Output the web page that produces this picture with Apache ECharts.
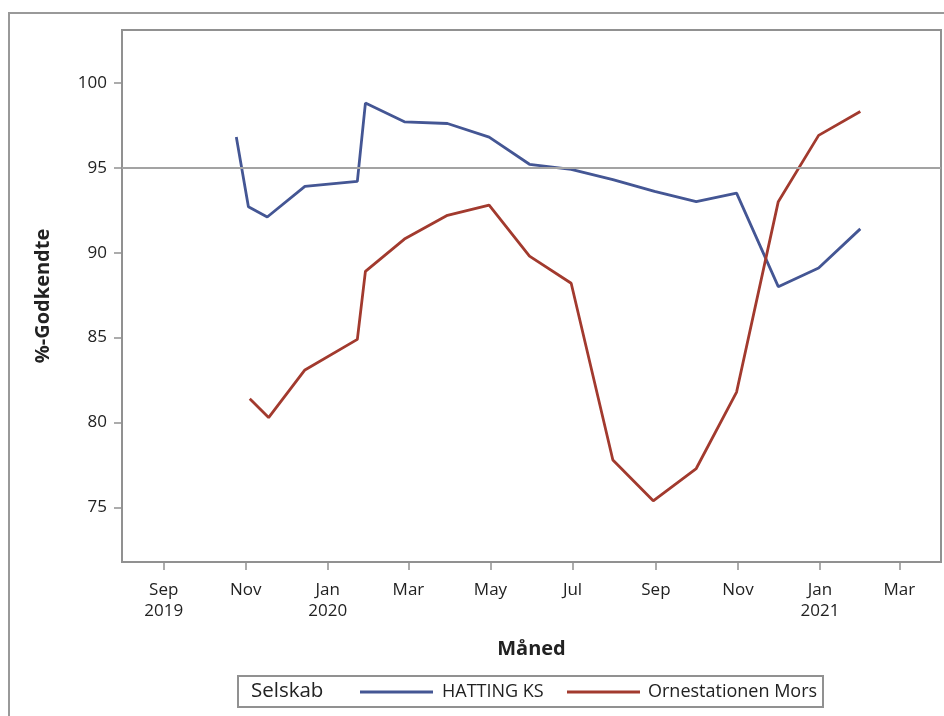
<!DOCTYPE html>
<html>
<head>
<meta charset="utf-8">
<script src="https://cdn.jsdelivr.net/npm/echarts@6/dist/echarts.min.js"></script>
<style>
html,body{margin:0;padding:0;background:#fff;}
#chart{width:944px;height:716px;}
</style>
</head>
<body>
<div id="chart"></div>
<script>
// ---- data ----
var hattingDates = ['2019-10-25','2019-11-03','2019-11-17','2019-12-15','2020-01-23','2020-01-29','2020-02-27','2020-03-30','2020-04-30','2020-05-30','2020-06-30','2020-07-31','2020-08-31','2020-10-01','2020-10-31','2020-12-01','2020-12-31','2021-01-31'];
var hattingValues = [96.8, 92.7, 92.1, 93.9, 94.2, 98.8, 97.7, 97.6, 96.8, 95.2, 94.9, 94.3, 93.6, 93.0, 93.5, 88.0, 89.1, 91.4];

var ornDates = ['2019-11-04','2019-11-18','2019-12-15','2020-01-23','2020-01-29','2020-02-27','2020-03-30','2020-04-30','2020-05-30','2020-06-30','2020-07-31','2020-08-30','2020-10-01','2020-10-31','2020-12-01','2020-12-31','2021-01-31'];
var ornValues = [81.4, 80.3, 83.1, 84.9, 88.9, 90.8, 92.2, 92.8, 89.8, 88.2, 77.8, 75.4, 77.3, 81.8, 93.0, 96.9, 98.3];

var tickDates = ['2019-09-01','2019-11-01','2020-01-01','2020-03-01','2020-05-01','2020-07-01','2020-09-01','2020-11-01','2021-01-01','2021-03-01'];
var tickLabels = ['Sep\n2019','Nov','Jan\n2020','Mar','May','Jul','Sep','Nov','Jan\n2021','Mar'];

var yTicks = [75, 80, 85, 90, 95, 100];
var refValue = 95;

var seriesNames = ['HATTING KS', 'Ornestationen Mors'];
var legendTitle = 'Selskab';

// ---- helpers ----
function ts(s){ var p = s.split('-'); return Date.UTC(+p[0], +p[1]-1, +p[2]); }
function pairs(d, v){ return d.map(function(x,i){ return [ts(x), v[i]]; }); }
var tickTs = tickDates.map(ts);

var FONT = 'Open Sans';
var TXT = '#222';
var FRAME = '#919191';

var chart = echarts.init(document.getElementById('chart'));
chart.setOption({
  animation: false,
  backgroundColor: '#fff',
  textStyle: { fontFamily: FONT },
  grid: { left: 122, top: 30, right: 3, bottom: 154, show: true, borderColor: FRAME, borderWidth: 2, containLabel: false },
  xAxis: {
    type: 'value',
    min: ts('2019-08-01'),
    max: ts('2021-04-01'),
    name: 'Måned',
    nameLocation: 'middle',
    nameGap: 77,
    nameTextStyle: { fontFamily: FONT, fontSize: 20, fontWeight: 'bold', color: TXT },
    axisLine: { show: false },
    splitLine: { show: false },
    axisTick: { show: true, customValues: tickTs, length: 8, lineStyle: { color: FRAME, width: 1.5 } },
    axisLabel: {
      customValues: tickTs,
      fontFamily: FONT, fontSize: 17, color: TXT, lineHeight: 21, margin: 18,
      formatter: function (val) {
        var best = 0, bd = Infinity;
        for (var i = 0; i < tickTs.length; i++) { var d = Math.abs(tickTs[i] - val); if (d < bd) { bd = d; best = i; } }
        return tickLabels[best];
      }
    }
  },
  yAxis: {
    type: 'value',
    min: 71.8,
    max: 103.1,
    name: '%-Godkendte',
    nameLocation: 'middle',
    nameGap: 69,
    nameTextStyle: { fontFamily: FONT, fontSize: 20, fontWeight: 'bold', color: TXT },
    axisLine: { show: false },
    splitLine: { show: false },
    axisTick: { show: true, customValues: yTicks, length: 8, lineStyle: { color: FRAME, width: 1.5 } },
    axisLabel: { customValues: yTicks, fontFamily: FONT, fontSize: 17, color: TXT, margin: 15 }
  },
  legend: [
    { data: [seriesNames[0]], left: 355, top: 678, icon: 'rect', itemWidth: 73, itemHeight: 3,
      textStyle: { fontFamily: FONT, fontSize: 18, color: TXT, padding: [0,0,0,4] } },
    { data: [seriesNames[1]], left: 562, top: 678, icon: 'rect', itemWidth: 73, itemHeight: 3,
      textStyle: { fontFamily: FONT, fontSize: 18, color: TXT, padding: [0,0,0,3] } }
  ],
  graphic: [
    { type: 'rect', shape: { x: 9, y: 13, width: 1000, height: 800 }, style: { fill: 'none', stroke: '#999', lineWidth: 2 }, silent: true, z: -1 },
    { type: 'rect', shape: { x: 238, y: 676, width: 585, height: 31 }, style: { fill: 'none', stroke: FRAME, lineWidth: 2 }, silent: true },
    { type: 'text', x: 251, y: 691, style: { text: legendTitle, fontFamily: FONT, fontSize: 20.5, fill: TXT, verticalAlign: 'middle', align: 'left' }, silent: true }
  ],
  series: [
    {
      name: seriesNames[0], type: 'line', data: pairs(hattingDates, hattingValues),
      showSymbol: false, symbol: 'none', color: '#445694',
      lineStyle: { width: 2.8, color: '#445694' },
      markLine: { silent: true, symbol: 'none', label: { show: false },
        lineStyle: { type: 'solid', color: '#a3a3a3', width: 2 },
        data: [{ yAxis: refValue }] },
      z: 3
    },
    {
      name: seriesNames[1], type: 'line', data: pairs(ornDates, ornValues),
      showSymbol: false, symbol: 'none', color: '#A23A2E',
      lineStyle: { width: 2.8, color: '#A23A2E' },
      z: 3
    }
  ]
});
</script>
</body>
</html>
